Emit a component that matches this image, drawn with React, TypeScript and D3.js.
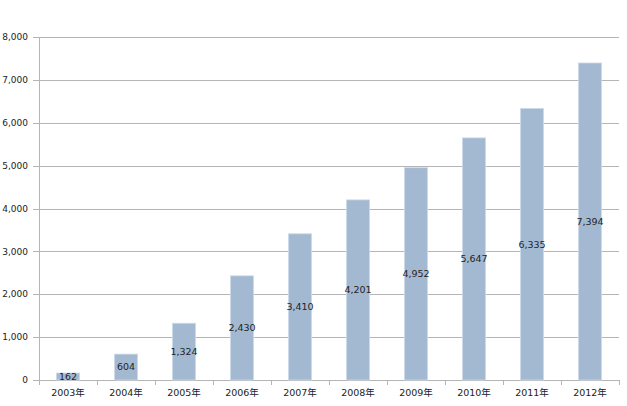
import React, { useEffect, useRef } from "react";
import * as d3 from "d3";

// yearly totals
const years = ["2003年", "2004年", "2005年", "2006年", "2007年", "2008年", "2009年", "2010年", "2011年", "2012年"];
const totals = [162, 604, 1324, 2430, 3410, 4201, 4952, 5647, 6335, 7394];
const yTicks = [0, 1000, 2000, 3000, 4000, 5000, 6000, 7000, 8000];

const W = 627;
const H = 406;
const margin = { top: 37, right: 8, bottom: 26, left: 39 };

export default function App() {
  const ref = useRef<SVGSVGElement>(null);

  useEffect(() => {
    const svg = d3.select(ref.current);
    svg.selectAll("*").remove();

    const w = W - margin.left - margin.right;
    const h = H - margin.top - margin.bottom;
    const g = svg.append("g").attr("transform", `translate(${margin.left},${margin.top})`);

    const x = d3.scaleBand().domain(years).range([0, w]).paddingInner(0.6).paddingOuter(0.3);
    const y = d3.scaleLinear().domain([0, 8000]).range([h, 0]);

    // horizontal grid
    g.selectAll(".grid")
      .data(yTicks)
      .join("line")
      .attr("x1", -6)
      .attr("x2", w)
      .attr("y1", (d) => Math.round(y(d)) + 0.5)
      .attr("y2", (d) => Math.round(y(d)) + 0.5)
      .attr("stroke", "#b5b5b5")
      .attr("stroke-width", 1);

    // left axis line
    g.append("line")
      .attr("x1", 0.5).attr("x2", 0.5)
      .attr("y1", 0).attr("y2", h)
      .attr("stroke", "#b5b5b5");

    // category ticks on the baseline
    const step = x.step();
    const bounds = d3.range(years.length + 1).map((i) => i * (w / years.length));
    g.selectAll(".xtick")
      .data(bounds)
      .join("line")
      .attr("x1", (d) => Math.round(d) + 0.5)
      .attr("x2", (d) => Math.round(d) + 0.5)
      .attr("y1", h)
      .attr("y2", h + 5)
      .attr("stroke", "#b5b5b5");

    // y labels
    g.selectAll(".ylab")
      .data(yTicks)
      .join("text")
      .attr("x", -11)
      .attr("y", (d) => y(d))
      .attr("dy", "0.35em")
      .attr("text-anchor", "end")
      .attr("font-family", "DejaVu Sans, sans-serif")
      .attr("font-size", 9)
      .attr("fill", "#222")
      .text((d) => d3.format(",")(d));

    // bars
    g.selectAll(".bar")
      .data(totals)
      .join("rect")
      .attr("x", (_, i) => x(years[i])!)
      .attr("y", (d) => y(d))
      .attr("width", x.bandwidth())
      .attr("height", (d) => h - y(d))
      .attr("fill", "#a3b9d1")
      .attr("stroke", "#cddbea")
      .attr("stroke-width", 0.8);

    // value labels at bar middle
    g.selectAll(".val")
      .data(totals)
      .join("text")
      .attr("x", (_, i) => x(years[i])! + x.bandwidth() / 2)
      .attr("y", (d) => y(d / 2))
      .attr("dy", "0.35em")
      .attr("text-anchor", "middle")
      .attr("font-family", "DejaVu Sans, sans-serif")
      .attr("font-size", 9.5)
      .attr("fill", "#1f1f1f")
      .text((d) => d3.format(",")(d));

    // x labels
    g.selectAll(".xlab")
      .data(years)
      .join("text")
      .attr("x", (d) => x(d)! + x.bandwidth() / 2)
      .attr("y", h + 16)
      .attr("text-anchor", "middle")
      .attr("font-family", "DejaVu Sans, Noto Sans CJK JP, sans-serif")
      .attr("font-size", 9.5)
      .attr("fill", "#222")
      .text((d) => d);

    void step;
  }, []);

  return (
    <svg
      ref={ref}
      width={W}
      height={H}
      style={{ position: "absolute", left: 0, top: 0, background: "#fff" }}
    />
  );
}
